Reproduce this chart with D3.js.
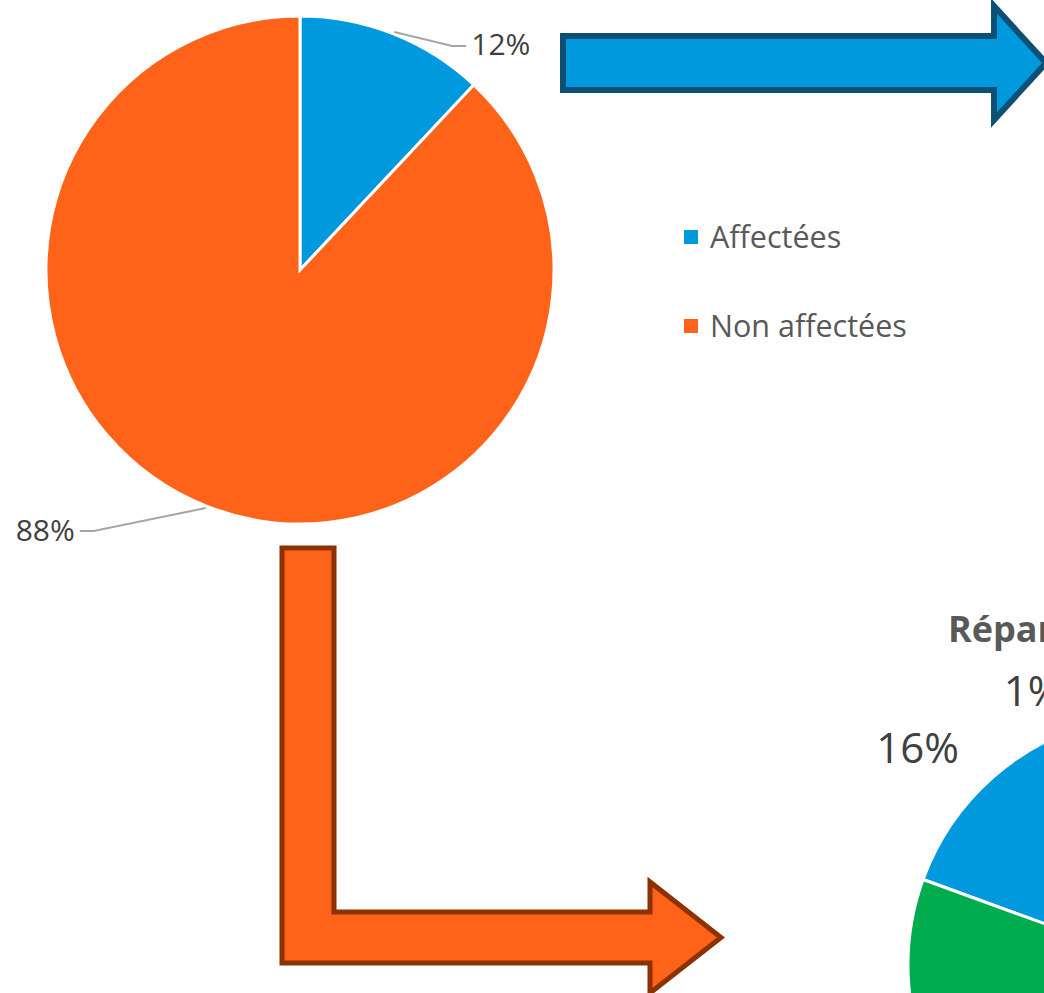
<!DOCTYPE html>
<html>
<head>
<meta charset="utf-8">
<script src="https://cdn.jsdelivr.net/npm/d3@7"></script>
<style>
  body { margin: 0; background: #fff; }
  svg { display: block; font-family: "Open Sans", "Noto Sans", sans-serif; }
</style>
</head>
<body>
<script>
// first pie
var categories = ["Affectées", "Non affectées"]
var values = [12, 88]
var colors = ["#0099dd", "#ff6319"]

// second pie (mostly out of frame)
var title2 = "Répartition des personnes affectées"
var categories2 = ["Catégorie 1", "Catégorie 2", "Catégorie 3"]
var values2 = [16, 1, 83]
var colors2 = ["#0099dd", "#ff6319", "#00ac4e"]

var W = 1044, H = 993

var svg = d3.select("body")
  .append("svg")
  .attr("width", W)
  .attr("height", H)

var total = d3.sum(values)
var pct = function(v, t) { return Math.round(v / t * 100) + "%" }

// ---- arrows (behind everything) ----
var blueArrow = d3.path()
blueArrow.moveTo(563, 36)
blueArrow.lineTo(994, 36)
blueArrow.lineTo(994, 6)
blueArrow.lineTo(1046, 63)
blueArrow.lineTo(994, 120)
blueArrow.lineTo(994, 90)
blueArrow.lineTo(563, 90)
blueArrow.closePath()

svg.append("path")
  .attr("d", blueArrow.toString())
  .attr("fill", "#0099dd")
  .attr("stroke", "#0d5075")
  .attr("stroke-width", 6)

var orangeArrow = d3.path()
orangeArrow.moveTo(282, 548)
orangeArrow.lineTo(334, 548)
orangeArrow.lineTo(334, 912)
orangeArrow.lineTo(650, 912)
orangeArrow.lineTo(650, 882)
orangeArrow.lineTo(721, 937.5)
orangeArrow.lineTo(650, 993)
orangeArrow.lineTo(650, 963)
orangeArrow.lineTo(282, 963)
orangeArrow.closePath()

svg.append("path")
  .attr("d", orangeArrow.toString())
  .attr("fill", "#ff6319")
  .attr("stroke", "#8c3100")
  .attr("stroke-width", 5)

// ---- first pie ----
var cx = 300, cy = 270, r = 254

var pie = d3.pie().sort(null).value(function(d) { return d })
var arcs = pie(values)
var arc = d3.arc().innerRadius(0).outerRadius(r)
var edgeArc = d3.arc().innerRadius(r + 2).outerRadius(r + 2)

var g = svg.append("g").attr("transform", "translate(" + cx + "," + cy + ")")

g.selectAll("path.slice")
  .data(arcs)
  .enter()
  .append("path")
  .attr("class", "slice")
  .attr("d", arc)
  .attr("fill", function(d, i) { return colors[i] })
  .attr("stroke", "#fff")
  .attr("stroke-width", 3)

// leader lines: offset of the elbow from the edge point, then text side
var elbow = [[58, 14], [-112, 23]]
var side = [1, -1]

arcs.forEach(function(d, i) {
  var p = edgeArc.centroid(d)
  var e = [p[0] + elbow[i][0], p[1] + elbow[i][1]]
  var t = [e[0] + side[i] * 14, e[1]]
  g.append("polyline")
    .attr("points", [p, e, t].map(function(q) { return q.join(",") }).join(" "))
    .attr("fill", "none")
    .attr("stroke", "#a6a6a6")
    .attr("stroke-width", 2)
  g.append("text")
    .attr("x", t[0] + side[i] * 5)
    .attr("y", t[1] - 1)
    .attr("dy", "0.35em")
    .attr("text-anchor", side[i] > 0 ? "start" : "end")
    .attr("font-size", 30)
    .attr("fill", "#404040")
    .text(pct(d.data, total))
})

// legend
var legend = svg.append("g")
  .selectAll("g")
  .data(categories)
  .enter()
  .append("g")
  .attr("transform", function(d, i) { return "translate(684," + (230 + i * 89) + ")" })

legend.append("rect")
  .attr("width", 14)
  .attr("height", 14)
  .attr("fill", function(d, i) { return colors[i] })

legend.append("text")
  .attr("x", 26)
  .attr("y", 7)
  .attr("dy", "0.35em")
  .attr("font-size", 30.5)
  .attr("fill", "#595959")
  .text(function(d) { return d })

// ---- second pie ----
var cx2 = 1158, cy2 = 965, r2 = 250
var start2 = 290 * Math.PI / 180
var total2 = d3.sum(values2)

var pie2 = d3.pie().sort(null)
  .startAngle(start2)
  .endAngle(start2 + 2 * Math.PI)
  .value(function(d) { return d })
var arcs2 = pie2(values2)
var arc2 = d3.arc().innerRadius(0).outerRadius(r2)
var labelArc2 = d3.arc().innerRadius(315).outerRadius(315)
var nudge2 = [[-33, 35], [-67, 51], [0, 0]]

svg.append("text")
  .attr("x", 948)
  .attr("y", 642)
  .attr("font-size", 36)
  .attr("font-weight", "bold")
  .attr("fill", "#595959")
  .text(title2)

var g2 = svg.append("g").attr("transform", "translate(" + cx2 + "," + cy2 + ")")

g2.selectAll("path.slice")
  .data(arcs2)
  .enter()
  .append("path")
  .attr("class", "slice")
  .attr("d", arc2)
  .attr("fill", function(d, i) { return colors2[i] })
  .attr("stroke", "#fff")
  .attr("stroke-width", 3)

g2.selectAll("text.lbl")
  .data(arcs2)
  .enter()
  .append("text")
  .attr("class", "lbl")
  .attr("transform", function(d, i) {
    var c = labelArc2.centroid(d)
    return "translate(" + (c[0] + nudge2[i][0]) + "," + (c[1] + nudge2[i][1]) + ")"
  })
  .attr("text-anchor", "middle")
  .attr("font-size", 42)
  .attr("fill", "#404040")
  .text(function(d) { return pct(d.data, total2) })
</script>
</body>
</html>
